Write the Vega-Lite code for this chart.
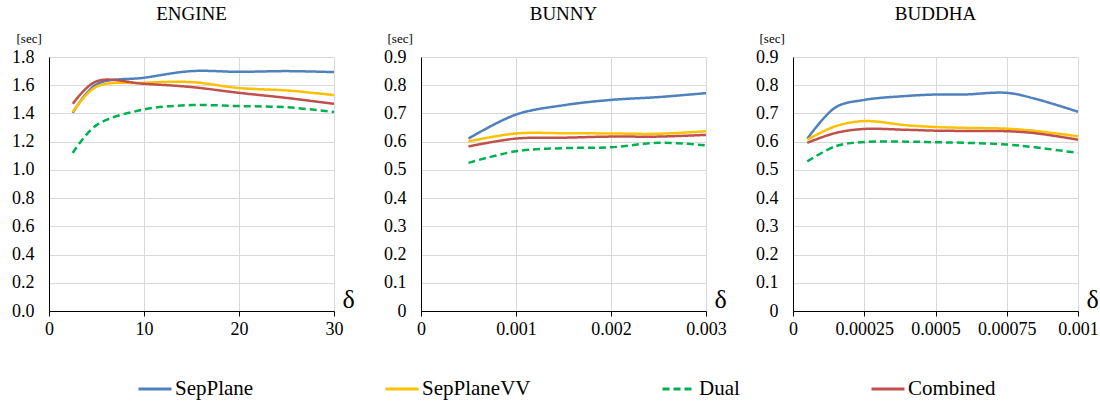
{
  "$schema": "https://vega.github.io/schema/vega-lite/v6.json",
  "background": "white",
  "padding": {"left": 11, "top": 5, "right": 5, "bottom": 5},
  "bounds": "flush",
  "spacing": 87,
  "datasets": {
    "d": [
      {"panel": "Engine", "series": "SepPlane", "delta": 2.5, "time": 1.404},
      {"panel": "Engine", "series": "SepPlane", "delta": 5, "time": 1.606},
      {"panel": "Engine", "series": "SepPlane", "delta": 10, "time": 1.653},
      {"panel": "Engine", "series": "SepPlane", "delta": 15, "time": 1.7},
      {"panel": "Engine", "series": "SepPlane", "delta": 20, "time": 1.695},
      {"panel": "Engine", "series": "SepPlane", "delta": 25, "time": 1.7},
      {"panel": "Engine", "series": "SepPlane", "delta": 30, "time": 1.693},
      {"panel": "Engine", "series": "SepPlaneVV", "delta": 2.5, "time": 1.41},
      {"panel": "Engine", "series": "SepPlaneVV", "delta": 5, "time": 1.59},
      {"panel": "Engine", "series": "SepPlaneVV", "delta": 10, "time": 1.617},
      {"panel": "Engine", "series": "SepPlaneVV", "delta": 15, "time": 1.622},
      {"panel": "Engine", "series": "SepPlaneVV", "delta": 20, "time": 1.58},
      {"panel": "Engine", "series": "SepPlaneVV", "delta": 25, "time": 1.563},
      {"panel": "Engine", "series": "SepPlaneVV", "delta": 30, "time": 1.53},
      {"panel": "Engine", "series": "Dual", "delta": 2.5, "time": 1.12},
      {"panel": "Engine", "series": "Dual", "delta": 5, "time": 1.317},
      {"panel": "Engine", "series": "Dual", "delta": 10, "time": 1.428},
      {"panel": "Engine", "series": "Dual", "delta": 15, "time": 1.459},
      {"panel": "Engine", "series": "Dual", "delta": 20, "time": 1.452},
      {"panel": "Engine", "series": "Dual", "delta": 25, "time": 1.444},
      {"panel": "Engine", "series": "Dual", "delta": 30, "time": 1.41},
      {"panel": "Engine", "series": "Combined", "delta": 2.5, "time": 1.468},
      {"panel": "Engine", "series": "Combined", "delta": 5, "time": 1.628},
      {"panel": "Engine", "series": "Combined", "delta": 10, "time": 1.61},
      {"panel": "Engine", "series": "Combined", "delta": 15, "time": 1.587},
      {"panel": "Engine", "series": "Combined", "delta": 20, "time": 1.546},
      {"panel": "Engine", "series": "Combined", "delta": 25, "time": 1.51},
      {"panel": "Engine", "series": "Combined", "delta": 30, "time": 1.468},

      {"panel": "Bunny", "series": "SepPlane", "delta": 0.0005, "time": 0.611},
      {"panel": "Bunny", "series": "SepPlane", "delta": 0.001, "time": 0.696},
      {"panel": "Bunny", "series": "SepPlane", "delta": 0.0015, "time": 0.729},
      {"panel": "Bunny", "series": "SepPlane", "delta": 0.002, "time": 0.748},
      {"panel": "Bunny", "series": "SepPlane", "delta": 0.0025, "time": 0.758},
      {"panel": "Bunny", "series": "SepPlane", "delta": 0.003, "time": 0.772},
      {"panel": "Bunny", "series": "SepPlaneVV", "delta": 0.0005, "time": 0.601},
      {"panel": "Bunny", "series": "SepPlaneVV", "delta": 0.001, "time": 0.629},
      {"panel": "Bunny", "series": "SepPlaneVV", "delta": 0.0015, "time": 0.63},
      {"panel": "Bunny", "series": "SepPlaneVV", "delta": 0.002, "time": 0.629},
      {"panel": "Bunny", "series": "SepPlaneVV", "delta": 0.0025, "time": 0.628},
      {"panel": "Bunny", "series": "SepPlaneVV", "delta": 0.003, "time": 0.637},
      {"panel": "Bunny", "series": "Dual", "delta": 0.0005, "time": 0.525},
      {"panel": "Bunny", "series": "Dual", "delta": 0.001, "time": 0.566},
      {"panel": "Bunny", "series": "Dual", "delta": 0.0015, "time": 0.577},
      {"panel": "Bunny", "series": "Dual", "delta": 0.002, "time": 0.58},
      {"panel": "Bunny", "series": "Dual", "delta": 0.0025, "time": 0.596},
      {"panel": "Bunny", "series": "Dual", "delta": 0.003, "time": 0.587},
      {"panel": "Bunny", "series": "Combined", "delta": 0.0005, "time": 0.583},
      {"panel": "Bunny", "series": "Combined", "delta": 0.001, "time": 0.611},
      {"panel": "Bunny", "series": "Combined", "delta": 0.0015, "time": 0.614},
      {"panel": "Bunny", "series": "Combined", "delta": 0.002, "time": 0.618},
      {"panel": "Bunny", "series": "Combined", "delta": 0.0025, "time": 0.618},
      {"panel": "Bunny", "series": "Combined", "delta": 0.003, "time": 0.624},

      {"panel": "Buddha", "series": "SepPlane", "delta": 0.00005, "time": 0.61},
      {"panel": "Buddha", "series": "SepPlane", "delta": 0.00015, "time": 0.722},
      {"panel": "Buddha", "series": "SepPlane", "delta": 0.00025, "time": 0.748},
      {"panel": "Buddha", "series": "SepPlane", "delta": 0.0004, "time": 0.762},
      {"panel": "Buddha", "series": "SepPlane", "delta": 0.0005, "time": 0.767},
      {"panel": "Buddha", "series": "SepPlane", "delta": 0.0006, "time": 0.767},
      {"panel": "Buddha", "series": "SepPlane", "delta": 0.00075, "time": 0.773},
      {"panel": "Buddha", "series": "SepPlane", "delta": 0.00085, "time": 0.752},
      {"panel": "Buddha", "series": "SepPlane", "delta": 0.001, "time": 0.706},
      {"panel": "Buddha", "series": "SepPlaneVV", "delta": 0.00005, "time": 0.607},
      {"panel": "Buddha", "series": "SepPlaneVV", "delta": 0.00015, "time": 0.655},
      {"panel": "Buddha", "series": "SepPlaneVV", "delta": 0.00025, "time": 0.673},
      {"panel": "Buddha", "series": "SepPlaneVV", "delta": 0.0004, "time": 0.658},
      {"panel": "Buddha", "series": "SepPlaneVV", "delta": 0.0005, "time": 0.652},
      {"panel": "Buddha", "series": "SepPlaneVV", "delta": 0.0006, "time": 0.649},
      {"panel": "Buddha", "series": "SepPlaneVV", "delta": 0.00075, "time": 0.646},
      {"panel": "Buddha", "series": "SepPlaneVV", "delta": 0.00085, "time": 0.638},
      {"panel": "Buddha", "series": "SepPlaneVV", "delta": 0.001, "time": 0.619},
      {"panel": "Buddha", "series": "Dual", "delta": 0.00005, "time": 0.53},
      {"panel": "Buddha", "series": "Dual", "delta": 0.00015, "time": 0.584},
      {"panel": "Buddha", "series": "Dual", "delta": 0.00025, "time": 0.599},
      {"panel": "Buddha", "series": "Dual", "delta": 0.0004, "time": 0.6},
      {"panel": "Buddha", "series": "Dual", "delta": 0.0005, "time": 0.598},
      {"panel": "Buddha", "series": "Dual", "delta": 0.0006, "time": 0.596},
      {"panel": "Buddha", "series": "Dual", "delta": 0.00075, "time": 0.59},
      {"panel": "Buddha", "series": "Dual", "delta": 0.00085, "time": 0.58},
      {"panel": "Buddha", "series": "Dual", "delta": 0.001, "time": 0.56},
      {"panel": "Buddha", "series": "Combined", "delta": 0.00005, "time": 0.596},
      {"panel": "Buddha", "series": "Combined", "delta": 0.00015, "time": 0.631},
      {"panel": "Buddha", "series": "Combined", "delta": 0.00025, "time": 0.645},
      {"panel": "Buddha", "series": "Combined", "delta": 0.0004, "time": 0.642},
      {"panel": "Buddha", "series": "Combined", "delta": 0.0005, "time": 0.639},
      {"panel": "Buddha", "series": "Combined", "delta": 0.0006, "time": 0.638},
      {"panel": "Buddha", "series": "Combined", "delta": 0.00075, "time": 0.637},
      {"panel": "Buddha", "series": "Combined", "delta": 0.00085, "time": 0.63},
      {"panel": "Buddha", "series": "Combined", "delta": 0.001, "time": 0.607}
    ]
  },
  "config": {
    "font": "Liberation Serif",
    "view": {"stroke": null},
    "axis": {
      "labelFont": "Liberation Serif", "labelFontSize": 18, "labelColor": "#000", "labelFlush": false,
      "gridColor": "#d9d9d9", "gridWidth": 1, "domainColor": "#000", "domainWidth": 1,
      "tickColor": "#000", "titleFont": "Liberation Serif", "titleFontWeight": "normal", "titleColor": "#000"
    },
    "title": {"font": "Liberation Serif", "fontSize": 19, "fontWeight": "normal", "color": "#000", "offset": 8},
    "legend": {
      "orient": "none", "legendX": 88, "legendY": 314,
      "direction": "horizontal", "symbolType": "stroke", "symbolSize": 1089, "symbolStrokeWidth": 3,
      "labelFont": "Liberation Serif", "labelFontSize": 21, "labelColor": "#000",
      "labelOffset": 2, "columnPadding": 125, "labelLimit": 300, "title": null
    }
  },
  "hconcat": [
    {
      "title": "ENGINE",
      "width": 285, "height": 254,
      "data": {"name": "d"},
      "transform": [{"filter": "datum.panel === 'Engine'"}],
      "mark": {"type": "line", "interpolate": "catmull-rom", "strokeWidth": 2.5},
      "encoding": {
        "x": {"field": "delta", "type": "quantitative", "scale": {"domain": [0, 30], "nice": false},
          "axis": {"values": [0, 10, 20, 30], "format": "~r", "labelOverlap": false, "labelFlush": false, "grid": true, "tickSize": 5, "labelPadding": 4,
            "title": "δ", "titleFontSize": 26, "titleX": 299, "titleY": -4, "titleAlign": "center", "titleBaseline": "alphabetic"}},
        "y": {"field": "time", "type": "quantitative", "scale": {"domain": [0, 1.8], "nice": false},
          "axis": {"values": [0, 0.2, 0.4, 0.6, 0.8, 1.0, 1.2, 1.4, 1.6, 1.8], "format": ".1f", "grid": true, "ticks": false, "labelPadding": 15,
            "title": "[sec]", "titleFontSize": 13, "titleAngle": 0, "titleAlign": "left", "titleBaseline": "alphabetic", "titleX": -33, "titleY": -15}},
        "color": {"field": "series", "type": "nominal", "title": null,
          "scale": {"domain": ["SepPlane", "SepPlaneVV", "Dual", "Combined"], "range": ["#4F81BD", "#FFC000", "#00B050", "#C0504D"]}},
        "strokeDash": {"field": "series", "type": "nominal", "title": null,
          "scale": {"domain": ["SepPlane", "SepPlaneVV", "Dual", "Combined"], "range": [[1, 0], [1, 0], [7, 4], [1, 0]]}}
      }
    },
    {
      "title": "BUNNY",
      "width": 285, "height": 254,
      "data": {"name": "d"},
      "transform": [{"filter": "datum.panel === 'Bunny'"}],
      "mark": {"type": "line", "interpolate": "catmull-rom", "strokeWidth": 2.5},
      "encoding": {
        "x": {"field": "delta", "type": "quantitative", "scale": {"domain": [0, 0.003], "nice": false},
          "axis": {"values": [0, 0.001, 0.002, 0.003], "format": ".1~r", "labelOverlap": false, "labelFlush": false, "grid": true, "tickSize": 5, "labelPadding": 4,
            "title": "δ", "titleFontSize": 26, "titleX": 299, "titleY": -4, "titleAlign": "center", "titleBaseline": "alphabetic"}},
        "y": {"field": "time", "type": "quantitative", "scale": {"domain": [0, 0.9], "nice": false},
          "axis": {"values": [0, 0.1, 0.2, 0.3, 0.4, 0.5, 0.6, 0.7, 0.8, 0.9], "format": ".1~f", "grid": true, "ticks": false, "labelPadding": 15,
            "title": "[sec]", "titleFontSize": 13, "titleAngle": 0, "titleAlign": "left", "titleBaseline": "alphabetic", "titleX": -34, "titleY": -15}},
        "color": {"field": "series", "type": "nominal", "title": null,
          "scale": {"domain": ["SepPlane", "SepPlaneVV", "Dual", "Combined"], "range": ["#4F81BD", "#FFC000", "#00B050", "#C0504D"]}},
        "strokeDash": {"field": "series", "type": "nominal", "title": null,
          "scale": {"domain": ["SepPlane", "SepPlaneVV", "Dual", "Combined"], "range": [[1, 0], [1, 0], [7, 4], [1, 0]]}}
      }
    },
    {
      "title": "BUDDHA",
      "width": 285, "height": 254,
      "data": {"name": "d"},
      "transform": [{"filter": "datum.panel === 'Buddha'"}],
      "mark": {"type": "line", "interpolate": "catmull-rom", "strokeWidth": 2.5},
      "encoding": {
        "x": {"field": "delta", "type": "quantitative", "scale": {"domain": [0, 0.001], "nice": false},
          "axis": {"values": [0, 0.00025, 0.0005, 0.00075, 0.001], "format": ".2~r", "labelOverlap": false, "labelFlush": false, "grid": true, "tickSize": 5, "labelPadding": 4,
            "title": "δ", "titleFontSize": 26, "titleX": 299, "titleY": -4, "titleAlign": "center", "titleBaseline": "alphabetic"}},
        "y": {"field": "time", "type": "quantitative", "scale": {"domain": [0, 0.9], "nice": false},
          "axis": {"values": [0, 0.1, 0.2, 0.3, 0.4, 0.5, 0.6, 0.7, 0.8, 0.9], "format": ".1~f", "grid": true, "ticks": false, "labelPadding": 15,
            "title": "[sec]", "titleFontSize": 13, "titleAngle": 0, "titleAlign": "left", "titleBaseline": "alphabetic", "titleX": -34, "titleY": -15}},
        "color": {"field": "series", "type": "nominal", "title": null,
          "scale": {"domain": ["SepPlane", "SepPlaneVV", "Dual", "Combined"], "range": ["#4F81BD", "#FFC000", "#00B050", "#C0504D"]}},
        "strokeDash": {"field": "series", "type": "nominal", "title": null,
          "scale": {"domain": ["SepPlane", "SepPlaneVV", "Dual", "Combined"], "range": [[1, 0], [1, 0], [7, 4], [1, 0]]}}
      }
    }
  ]
}
